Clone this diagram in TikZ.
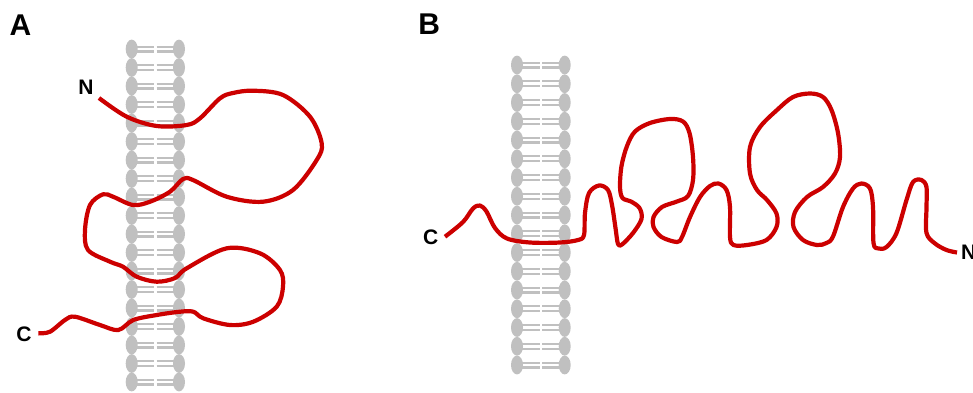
\documentclass[tikz,border=0pt]{standalone}
\usepackage{fontspec}
\setmainfont{Liberation Sans}
\usetikzlibrary{positioning}
\definecolor{lipid}{RGB}{192,192,192}
\definecolor{chainred}{RGB}{204,0,0}
\tikzset{
    head/.style={lipid, fill=lipid},
    tail/.style={draw=lipid, line width=2.2pt},
    chain/.style={draw=chainred, line width=4.2pt, line join=round},
    panel/.style={font=\bfseries\fontsize{30}{30}\selectfont, inner sep=0pt},
    term/.style={font=\bfseries\fontsize{21}{21}\selectfont, inner sep=0pt}
}
% one bilayer column: left x, right x, first y, step, count
\newcommand{\bilayer}[5]{%
  \foreach \i in {1,...,#5} {
    \pgfmathsetmacro{\yy}{#3+(\i-1)*#4}
    \pgfmathsetmacro{\xm}{(#1+#2)/2}
    \draw[tail] (#1+5,\yy-2.4) -- (\xm-1.2,\yy-2.4) (\xm+1.2,\yy-2.4) -- (#2-5,\yy-2.4);
    \draw[tail] (#1+5,\yy+2.4) -- (\xm-1.2,\yy+2.4) (\xm+1.2,\yy+2.4) -- (#2-5,\yy+2.4);
    \fill[head] (#1,\yy) ellipse [x radius=6, y radius=9.4];
    \fill[head] (#2,\yy) ellipse [x radius=6, y radius=9.4];
  }%
}

\begin{document}
\begin{tikzpicture}
  [
    x                       = 1pt,
    y                       = -1pt,
  ]
  \useasboundingbox (0,0) rectangle (973,392);

  % panel A
  \node [panel] (lblA) at (20.5,25) {A};
  \bilayer{131.7}{179}{49}{18.5}{19}
  \node [term] (nA) at (86,87) {N};
  \node [term] (cA) at (24,334) {C};
  \draw [chain] plot [smooth, tension=0.55] coordinates {
    (99,98) (126.7,116.7) (156.7,126) (186.7,125) (200,118.3) (220,98.3)
    (233,93) (253,90.7) (283,95) (310,116.7) (321.7,143.3) (316.7,160)
    (293,190) (263,201.7) (226.7,196.7) (193,180) (183,179) (170,191.7)
    (150,201.7) (133,205) (113,196.7) (103,194.3) (90,205) (85,230)
    (88,250) (110,261.7) (123,266.7) (136.7,276.7) (156.7,281.7) (175,278)
    (186.7,268.3) (226.7,248.3) (260,253.3) (280,270) (283,286.7)
    (276.7,306.7) (253.3,321.7) (230,325) (203.3,318.3) (193.3,311.7)
    (180,311.7) (156.7,315) (133.3,320) (118.3,330) (100,325) (75,316.7)
    (65,320) (50,331.7) (38.3,333.3)};

  % panel B
  \node [panel] (lblB) at (429.3,24) {B};
  \bilayer{517}{564.7}{65}{18.75}{17}
  \node [term] (cB) at (430.7,237.5) {C};
  \node [term, anchor=west] (nB) at (961,252) {N};
  \draw [chain] plot [smooth, tension=0.55] coordinates {
    (445,236.7) (463,222) (473,208.5) (480,205.5) (486.5,211.5) (495,228)
    (507,238.5) (530,242.5) (560,242.5) (578,240) (584,235) (585,213)
    (589,193) (599,185.5) (608,190) (612,205) (615.5,228) (618,244)
    (622,244.5) (633,233) (641.5,219) (639.5,208) (631,201.5) (622.5,198)
    (620,187) (621.5,166) (627,146) (635,131.5) (650,123) (670,119)
    (683,121.5) (689.5,133) (693,157) (693,180) (688,196) (677,201.5)
    (662,207) (653.5,217) (653.5,227) (661.5,237) (677,242) (682,237)
    (690,217) (700,197) (710,186) (718.5,183.5) (726.5,190) (730,207)
    (730,237) (733.5,245) (747,245) (766.5,240) (776.5,227) (776.5,213.5)
    (767,200) (757,190) (750,173.5) (750,147) (760,127) (777,110)
    (793,97) (810,93.5) (823,97) (831.5,110) (838,133) (840,157)
    (835,173.5) (823,187) (807,197) (795,212) (793.5,227) (803,240)
    (817,245) (826.5,243) (833,236.5) (843,207) (853,188.5) (861.5,183.5)
    (870,188.5) (873,207) (873.5,243) (878.5,248.5) (886.5,247) (896.5,233)
    (906.5,200) (913,182) (921.5,180) (926.5,187) (926.5,207) (926.5,233)
    (935,243.5) (946.5,250) (957,252.5)};
\end{tikzpicture}
\end{document}
